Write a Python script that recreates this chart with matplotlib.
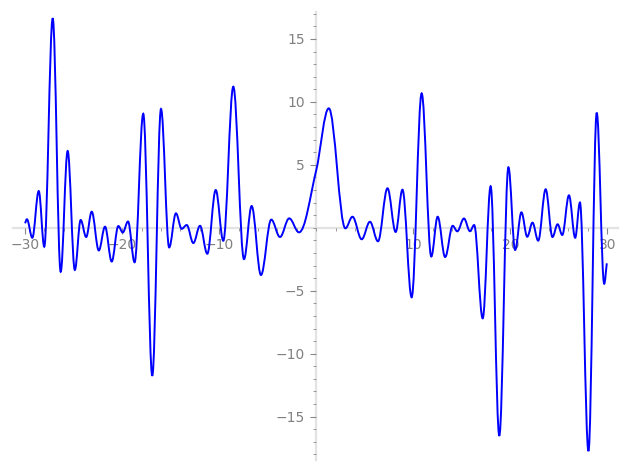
import matplotlib
matplotlib.use("Agg")
import matplotlib.pyplot as plt
from matplotlib.path import Path
from matplotlib.patches import PathPatch
from matplotlib.ticker import FixedLocator, MultipleLocator

# Curve: start point, successive local extrema, end point
curve_x = [-30.0, -29.81, -29.25, -28.59, -28.02, -27.15, -26.33, -25.61, -24.87, -24.27,
           -23.70, -23.13, -22.40, -21.76, -21.07, -20.39, -19.93, -19.39, -18.71, -17.82,
           -16.89, -15.99, -15.15, -14.45, -13.86, -13.34, -12.66, -11.97, -11.22, -10.35,
           -9.57, -8.54, -7.44, -6.65, -5.69, -4.63, -3.73, -2.78, -1.77, 0.0, 1.30,
           3.01, 3.74, 4.69, 5.54, 6.37, 7.35, 8.19, 8.89, 9.84, 10.87,
           11.86, 12.52, 13.29, 14.07, 14.54, 15.23, 15.85, 16.28, 17.16, 17.98,
           18.87, 19.81, 20.50, 21.15, 21.75, 22.29, 22.88, 23.65, 24.35, 24.88,
           25.36, 26.05, 26.69, 27.18, 28.06, 28.91, 29.68, 29.95]
curve_y = [0.36, 0.68, -0.79, 2.92, -1.50, 16.64, -3.49, 6.10, -3.35, 0.62,
           -0.73, 1.28, -1.80, 0.09, -2.68, 0.14, -0.37, 0.50, -2.74, 9.06,
           -11.75, 9.44, -1.56, 1.15, -0.08, 0.22, -1.21, 0.16, -2.06, 3.00,
           -1.03, 11.21, -2.49, 1.73, -3.75, 0.65, -0.73, 0.75, -0.36, 4.55, 9.49,
           -0.04, 0.88, -0.91, 0.48, -1.07, 3.14, -0.33, 3.03, -5.52, 10.68,
           -2.28, 0.88, -2.32, 0.16, -0.28, 0.74, -0.27, 0.22, -7.19, 3.30,
           -16.52, 4.81, -1.76, 1.23, -0.71, 0.41, -1.02, 3.06, -0.73, 0.28,
           -0.57, 2.58, -0.79, 2.01, -17.73, 9.14, -4.44, -2.82]

x_major = [-30, -20, -10, 10, 20, 30]
y_major = [-15, -10, -5, 5, 10, 15]

fig = plt.figure(figsize=(6.27, 4.70), dpi=100)
ax = fig.add_axes([0.0203, 0.0213, 0.9653, 0.9537])

# smooth line through the read points (horizontal tangent at extrema)
n = len(curve_x)
slopes = []
for i in range(n):
    if i == 0:
        m = (curve_y[1] - curve_y[0]) / (curve_x[1] - curve_x[0])
    elif i == n - 1:
        m = (curve_y[i] - curve_y[i - 1]) / (curve_x[i] - curve_x[i - 1])
    else:
        a, b, c = curve_y[i - 1], curve_y[i], curve_y[i + 1]
        if (b - a) * (c - b) <= 0:
            m = 0.0
        else:
            m = (c - a) / (curve_x[i + 1] - curve_x[i - 1])
    slopes.append(m)

k = 0.364
verts = [(curve_x[0], curve_y[0])]
codes = [Path.MOVETO]
for i in range(n - 1):
    x0, y0, m0 = curve_x[i], curve_y[i], slopes[i]
    x1, y1, m1 = curve_x[i + 1], curve_y[i + 1], slopes[i + 1]
    h = k * (x1 - x0)
    verts += [(x0 + h, y0 + m0 * h), (x1 - h, y1 - m1 * h), (x1, y1)]
    codes += [Path.CURVE4] * 3
patch = PathPatch(Path(verts, codes), facecolor="none", edgecolor="#0000ff",
                  linewidth=1.4, zorder=3)
ax.add_patch(patch)

ax.set_xlim(-31.27, 31.1)
ax.set_ylim(-18.44, 17.16)

for side in ("top", "right"):
    ax.spines[side].set_visible(False)
ax.spines["left"].set_position(("data", 0))
ax.spines["bottom"].set_position(("data", 0))
for side in ("left", "bottom"):
    ax.spines[side].set_color("#e3e3e3")
    ax.spines[side].set_linewidth(1.6)
    ax.spines[side].set_zorder(1)

ax.xaxis.set_major_locator(FixedLocator(x_major))
ax.yaxis.set_major_locator(FixedLocator(y_major))
ax.xaxis.set_minor_locator(MultipleLocator(2))
ax.yaxis.set_minor_locator(MultipleLocator(1))
ax.set_xticklabels([str(v).replace("-", "\u2212") for v in x_major])
ax.set_yticklabels([str(v).replace("-", "\u2212") for v in y_major])
ax.tick_params(which="major", direction="out", length=4, width=0.8, color="#888888",
               labelcolor="#808080", labelsize=10)
ax.tick_params(axis="x", which="major", pad=3)
ax.tick_params(axis="y", which="major", pad=4)
ax.tick_params(which="minor", direction="out", length=2, width=0.6, color="#888888")
ax.set_facecolor("white")

fig.savefig("out.png", dpi=100)
